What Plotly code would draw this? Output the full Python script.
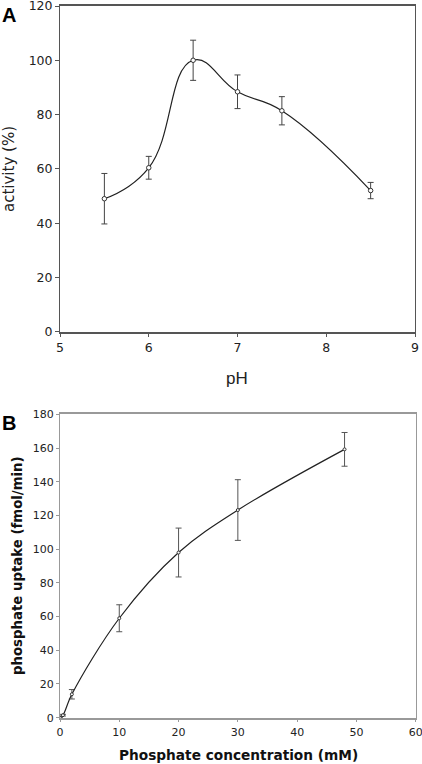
import plotly.graph_objects as go

# Panel A data
ph = [5.5, 6.0, 6.5, 7.0, 7.5, 8.5]
activity = [49, 60.4, 100, 88.4, 81.4, 52]
activity_err = [9.3, 4.2, 7.4, 6.2, 5.2, 3]

# Panel B data
conc = [0, 0.5, 2, 10, 20, 30, 48]
uptake = [0, 1.5, 13.9, 59, 98, 123.2, 159.2]
uptake_err = [0, 0.5, 2.8, 8, 14.5, 18, 10]

W, H = 422, 764
def px_x(p): return p / W
def px_y(p): return 1 - p / H

fig = go.Figure()

fig.add_trace(go.Scatter(
    x=ph, y=activity, mode="lines+markers", line=dict(shape="spline", smoothing=1.3, color="#222", width=1.2),
    marker=dict(symbol="circle", size=4.5, color="white", line=dict(color="#333", width=1)),
    error_y=dict(type="data", array=activity_err, color="#444", thickness=1, width=3),
    xaxis="x", yaxis="y", showlegend=False))

fig.add_trace(go.Scatter(
    x=conc, y=uptake, mode="lines+markers", line=dict(shape="spline", smoothing=1.0, color="#222", width=1.2),
    marker=dict(symbol="circle", size=3, color="white", line=dict(color="#333", width=1)),
    error_y=dict(type="data", array=uptake_err, color="#555", thickness=1, width=3),
    xaxis="x2", yaxis="y2", showlegend=False))

tickfontA = dict(family="DejaVu Sans", size=12.5, color="#222")
tickfontB = dict(family="DejaVu Sans", size=11, color="#222")

common = dict(showgrid=False, zeroline=False, showline=True, mirror=True, automargin=False,
              fixedrange=True, ticklabeloverflow="allow")

fig.update_layout(
    template="none",
    width=W, height=H, margin=dict(l=0, r=0, t=0, b=0, pad=0),
    paper_bgcolor="white", plot_bgcolor="white",
    xaxis=dict(domain=[px_x(60), px_x(415)], anchor="y", range=[5, 9], tickvals=[5, 6, 7, 8, 9],
               linecolor="#555", linewidth=1.5, ticks="outside", ticklen=4, tickcolor="#555",
               tickfont=tickfontA, **common),
    yaxis=dict(domain=[px_y(331.7), px_y(6)], anchor="x", range=[0, 120], tickvals=[0, 20, 40, 60, 80, 100, 120],
               linecolor="#555", linewidth=1, ticks="outside", ticklen=4, tickcolor="#555",
               tickfont=tickfontA, **common),
    xaxis2=dict(domain=[px_x(60), px_x(415.7)], anchor="y2", range=[0, 60], tickvals=[0, 10, 20, 30, 40, 50, 60],
                linecolor="#999", linewidth=1.5, ticks="outside", ticklen=3, tickcolor="#999",
                tickfont=tickfontB, **common),
    yaxis2=dict(domain=[px_y(717.7), px_y(414.3)], anchor="x2", range=[0, 180],
                tickvals=[0, 20, 40, 60, 80, 100, 120, 140, 160, 180],
                linecolor="#999", linewidth=1, ticks="outside", ticklen=3, tickcolor="#999",
                tickfont=tickfontB, **common),
)

ann = [
    dict(text="<b>A</b>", x=px_x(0), y=px_y(2), xanchor="left", yanchor="top",
         font=dict(family="Liberation Sans", size=20, color="black")),
    dict(text="<b>B</b>", x=px_x(0), y=px_y(410), xanchor="left", yanchor="top",
         font=dict(family="Liberation Sans", size=20, color="black")),
    dict(text="activity (%)", x=px_x(9), y=px_y(169), xanchor="center", yanchor="middle", textangle=-90,
         font=dict(family="DejaVu Sans", size=15, color="#222")),
    dict(text="pH", x=px_x(237), y=px_y(378), xanchor="center", yanchor="middle",
         font=dict(family="Liberation Sans", size=17, color="#222")),
    dict(text="<b>phosphate uptake (fmol/min)</b>", x=px_x(17), y=px_y(566), xanchor="center", yanchor="middle",
         textangle=-90, font=dict(family="DejaVu Sans", size=13.3, color="#111")),
    dict(text="<b>Phosphate concentration (mM)</b>", x=px_x(238), y=px_y(755), xanchor="center", yanchor="middle",
         font=dict(family="DejaVu Sans", size=13.7, color="#111")),
]
for a in ann:
    a.update(xref="paper", yref="paper", showarrow=False)
fig.update_layout(annotations=ann)

fig.write_html("out.html", config={"displayModeBar": False},
               post_script="document.body.style.margin='0';document.body.style.overflow='hidden';")
